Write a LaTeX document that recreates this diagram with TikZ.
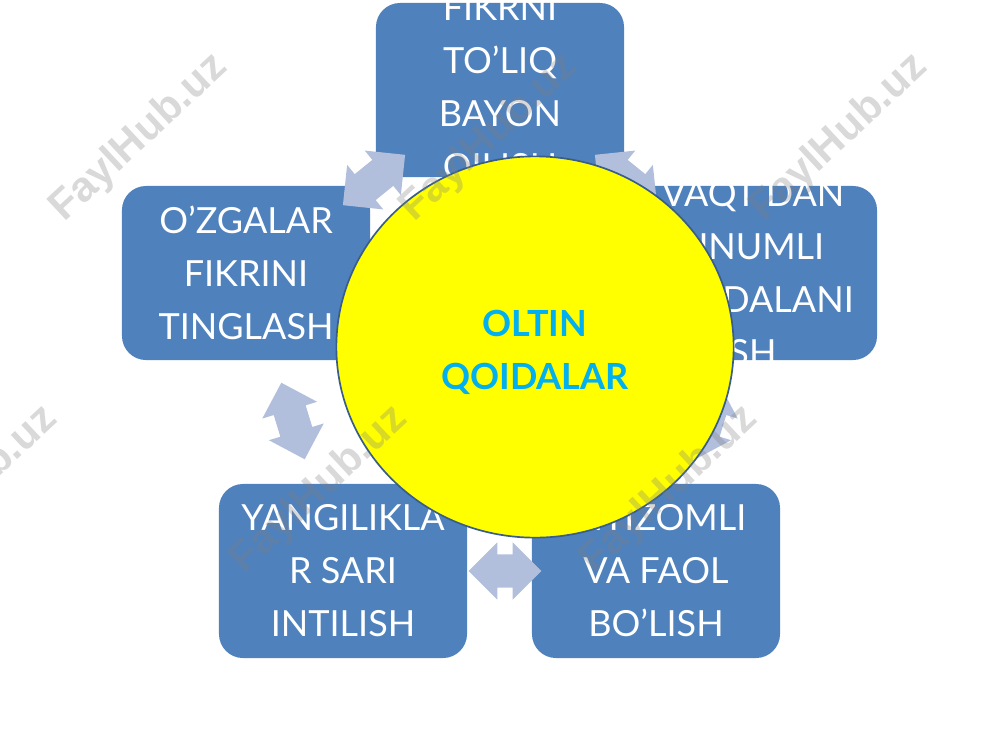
\documentclass[tikz,border=0pt]{standalone}
\usepackage{fontspec}
\setmainfont{Lato}
\newfontfamily\wmfont{Liberation Sans}
\usetikzlibrary{shapes,arrows,positioning}
\definecolor{boxblue}{RGB}{79,129,189}
\definecolor{linkblue}{RGB}{178,191,220}
\definecolor{rimblue}{RGB}{56,93,138}
\definecolor{capcyan}{RGB}{0,176,240}
\definecolor{coreyellow}{RGB}{255,255,0}

\begin{document}
\begin{tikzpicture}[x=0.025cm, y=-0.025cm]
\tikzstyle{rule}=[rectangle, rounded corners=0.6cm, fill=boxblue,
                  minimum width=6.2cm, minimum height=4.35cm]
\tikzstyle{ruletext}=[text=white, align=center, inner sep=0pt,
                      font=\fontsize{25.6pt}{37.7pt}\selectfont]
\tikzstyle{link}=[double arrow, fill=linkblue, inner xsep=0pt, inner ysep=0.41cm,
                  minimum width=1.42cm, minimum height=2.0cm,
                  double arrow head extend=0.3cm]
\tikzstyle{wmark}=[text=black!50, opacity=0.3, rotate=43,
                   font=\wmfont\bfseries\fontsize{30pt}{36pt}\selectfont]
\useasboundingbox (0,0) rectangle (1000,750);
\clip (0,0) rectangle (1000,750);
% the five rules
\node[rule] (T) at (500,90) {};
\node[rule] (L) at (246,273) {};
\node[rule] (R) at (753,273) {};
\node[rule] (BL) at (343,571) {};
\node[rule] (BR) at (656,571) {};
\node[ruletext] (Tt) at (T) {FIKRNI\\TO’LIQ\\BAYON\\QILISH};
\node[ruletext] (Lt) at (L) {O’ZGALAR\\FIKRINI\\TINGLASH};
\node[ruletext] (Rt) at (R) {VAQT DAN\\UNUMLI\\FOYDALANI\\SH};
\node[ruletext] (BLt) at (BL) {YANGILIKLA\\R SARI\\INTILISH};
\node[ruletext] (BRt) at (BR) {INTIZOMLI\\VA FAOL\\BO’LISH};
% arrows between them
\node[link, rotate=39] (TL) at (374,180) {};
\node[link, rotate=141] (TR) at (626,180) {};
\node[link, rotate=-73] (LB) at (293,421) {};
\node[link, rotate=73] (RB) at (707,421) {};
\node[link, minimum height=1.82cm] (BB) at (505,571) {};
% centre
\node[ellipse, draw=rimblue, line width=1.2pt, fill=coreyellow,
      minimum width=9.93cm, minimum height=9.53cm] (core) at (535,347) {};
\node[text=capcyan, align=center, inner sep=0pt,
      font=\bfseries\fontsize{25.6pt}{37.7pt}\selectfont] (coret) at ([yshift=-4pt]core.center) {OLTIN\\QOIDALAR};
\foreach \x/\y [count=\i] in {139/138, 489/138, 839/138, -31/490, 319/490, 669/490}
  \node[wmark] (wm\i) at (\x,\y) {FaylHub.uz};
\end{tikzpicture}
\end{document}
